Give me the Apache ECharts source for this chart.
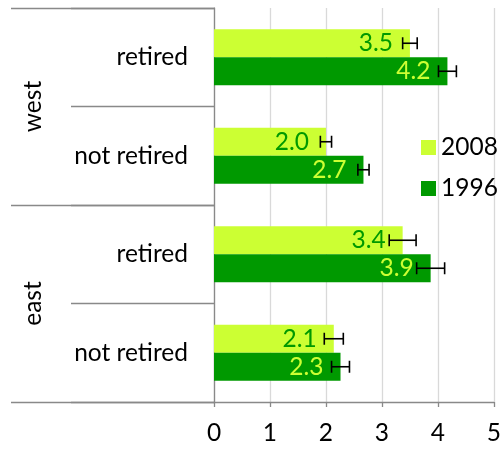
<!DOCTYPE html>
<html><head><meta charset="utf-8">
<script src="https://cdn.jsdelivr.net/npm/echarts@6/dist/echarts.min.js"></script>
<style>html,body{margin:0;padding:0;background:#fff}#c{width:504px;height:451px}</style>
</head><body><div id="c"></div>
<script>
const categories = ['retired', 'not retired', 'retired', 'not retired'];
const groups = ['west', 'east'];
const seriesNames = ['2008', '1996'];
const values2008 = [3.5, 2.0, 3.37, 2.14];
const values1996 = [4.17, 2.67, 3.87, 2.26];
const err2008 = [0.13, 0.1, 0.24, 0.17];
const err1996 = [0.16, 0.1, 0.25, 0.16];
const xTicks = [0, 1, 2, 3, 4, 5];

const FONT = 'Lato';
const FS = 24.5;
const LIGHT = '#ccff33', DARK = '#009900', AXIS = '#898989';
const BAR_W = 28;

function errData(vals, errs) { return vals.map((v, i) => [v, i, errs[i]]); }
function errSeries(name, vals, errs, off) {
  return {
    type: 'custom', name: name + ' err', z: 5, silent: true,
    encode: { x: 0, y: 1 },
    data: errData(vals, errs),
    renderItem: function (params, api) {
      const v = api.value(0), idx = api.value(1), e = api.value(2);
      const lo = api.coord([v - e, idx]);
      const hi = api.coord([v + e, idx]);
      const y = lo[1] + off;
      const cap = 6;
      const st = { stroke: '#000', lineWidth: 1.6 };
      return { type: 'group', children: [
        { type: 'line', shape: { x1: lo[0], y1: y, x2: hi[0], y2: y }, style: st },
        { type: 'line', shape: { x1: lo[0], y1: y - cap, x2: lo[0], y2: y + cap }, style: st },
        { type: 'line', shape: { x1: hi[0], y1: y - cap, x2: hi[0], y2: y + cap }, style: st }
      ]};
    }
  };
}

const chart = echarts.init(document.getElementById('c'));
chart.setOption({
  animation: false,
  textStyle: { fontFamily: FONT },
  grid: { left: 214, right: 7, top: 8, bottom: 49, containLabel: false },
  legend: {
    data: seriesNames, orient: 'vertical', left: 416, top: 130,
    itemWidth: 15, itemHeight: 15, itemGap: 16, icon: 'rect',
    textStyle: { fontFamily: FONT, fontSize: FS, color: '#000' }
  },
  xAxis: {
    type: 'value', min: xTicks[0], max: xTicks[xTicks.length - 1], interval: 1,
    axisLine: { show: true, lineStyle: { color: AXIS, width: 1.3 } },
    axisTick: { show: true, length: 5, lineStyle: { color: AXIS, width: 1.3 } },
    splitLine: { show: true, lineStyle: { color: '#d9d9d9', width: 1.3 } },
    axisLabel: { fontFamily: FONT, fontSize: FS, color: '#000', margin: 19 }
  },
  yAxis: [{
    type: 'category', data: categories, inverse: true, position: 'left',
    axisLine: { show: true, lineStyle: { color: AXIS, width: 1.3 } },
    axisTick: { show: true, length: 143, lineStyle: { color: AXIS, width: 1.3 } },
    axisLabel: { fontFamily: FONT, fontSize: FS, color: '#000', margin: 26 }
  }, {
    type: 'category', data: groups, inverse: true, position: 'left',
    axisLine: { show: false },
    axisTick: { show: true, length: 203, lineStyle: { color: AXIS, width: 1.3 } },
    axisLabel: { fontFamily: FONT, fontSize: FS, color: '#000', rotate: 90, margin: 168 }
  }],
  series: [{
    name: seriesNames[0], type: 'bar', data: values2008, barWidth: BAR_W, barGap: '0%',
    itemStyle: { color: LIGHT },
    label: { show: true, position: 'insideRight', distance: 17, fontFamily: FONT, fontSize: FS,
      color: DARK, formatter: p => p.value.toFixed(1) }
  }, {
    name: seriesNames[1], type: 'bar', data: values1996, barWidth: BAR_W, barGap: '0%',
    itemStyle: { color: DARK },
    label: { show: true, position: 'insideRight', distance: 17, fontFamily: FONT, fontSize: FS,
      color: LIGHT, formatter: p => p.value.toFixed(1) }
  },
  errSeries(seriesNames[0], values2008, err2008, -BAR_W / 2),
  errSeries(seriesNames[1], values1996, err1996, BAR_W / 2)
  ]
});
</script></body></html>
